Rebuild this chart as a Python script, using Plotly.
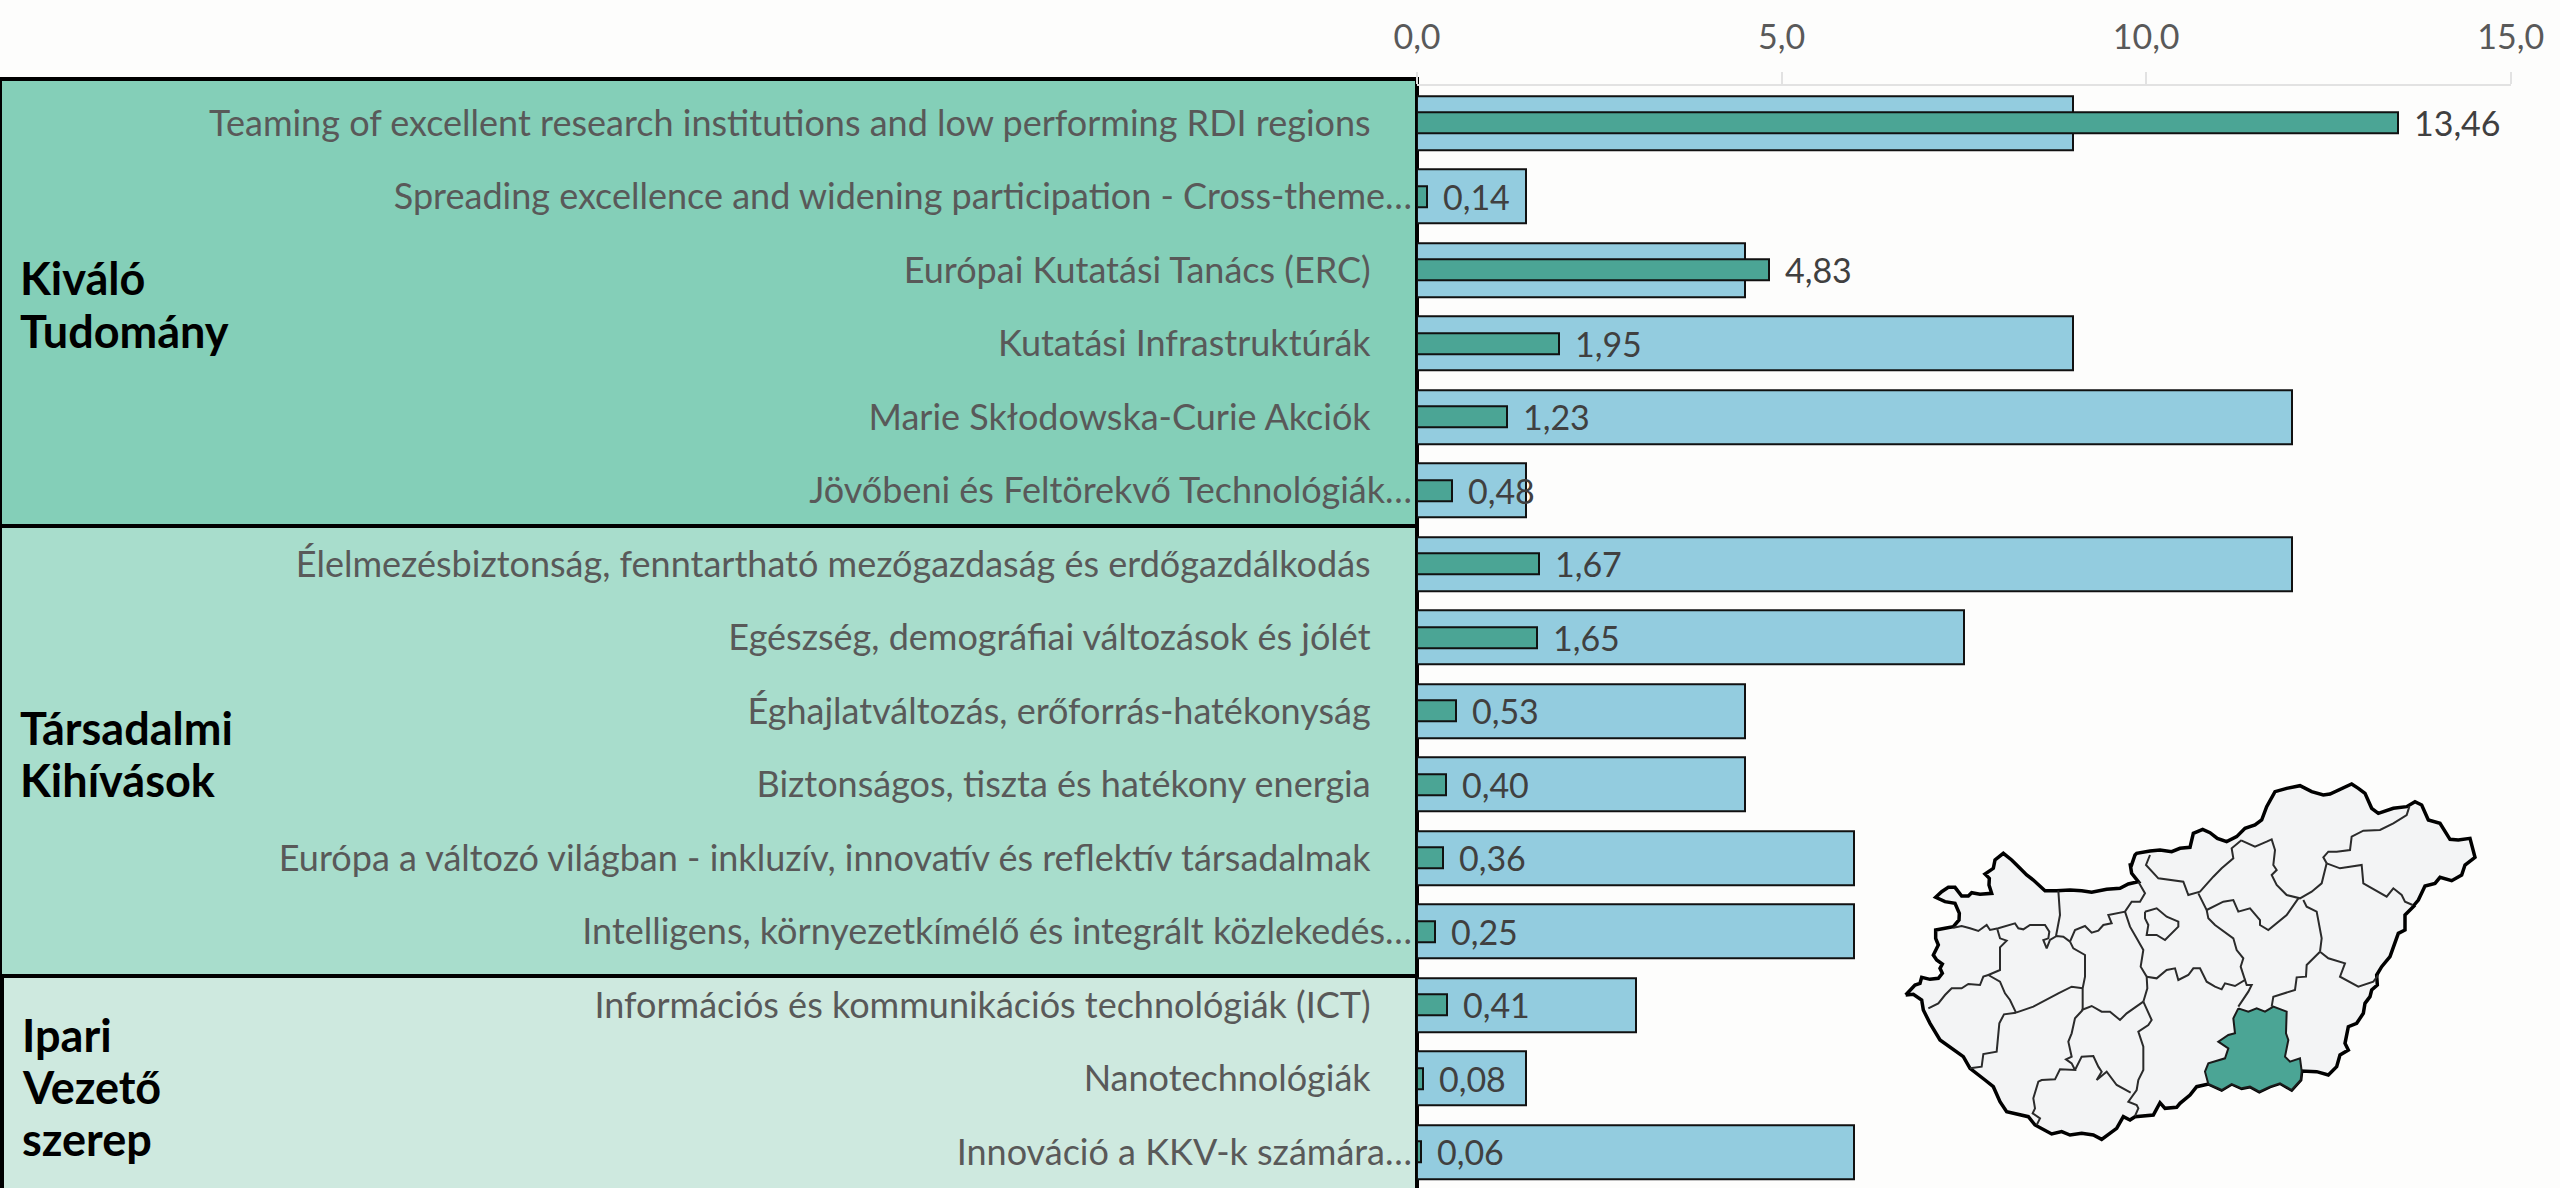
import plotly.graph_objects as go

W, H = 2560, 1188
FONT = "Lato"

categories = [
    "Teaming of excellent research institutions and low performing RDI regions",
    "Spreading excellence and widening participation - Cross-theme…",
    "Európai Kutatási Tanács (ERC)",
    "Kutatási Infrastruktúrák",
    "Marie Skłodowska-Curie Akciók",
    "Jövőbeni és Feltörekvő Technológiák…",
    "Élelmezésbiztonság, fenntartható mezőgazdaság és erdőgazdálkodás",
    "Egészség, demográfiai változások és jólét",
    "Éghajlatváltozás, erőforrás-hatékonyság",
    "Biztonságos, tiszta és hatékony energia",
    "Európa a változó világban - inkluzív, innovatív és reflektív társadalmak",
    "Intelligens, környezetkímélő és integrált közlekedés…",
    "Információs és kommunikációs technológiák (ICT)",
    "Nanotechnológiák",
    "Innováció a KKV-k számára…",
]
blue_values = [9, 1.5, 4.5, 9, 12, 1.5, 12, 7.5, 4.5, 4.5, 6, 6, 3, 1.5, 6]
green_values = [13.46, 0.14, 4.83, 1.95, 1.23, 0.48, 1.67, 1.65, 0.53, 0.40, 0.36, 0.25, 0.41, 0.08, 0.06]
x_ticks = [0, 5, 10, 15]

# Map outlines, traced in three views of the map
def w(pts): return [(1890 + x / 3, 860 + y / 3) for x, y in pts]   # south-west view
def e(pts): return [(2170 + x / 3, 860 + y / 3) for x, y in pts]   # south-east view
def n(pts): return [(2130 + x / 3, 770 + y / 3) for x, y in pts]   # north view

border_west_north = [(47,405),(60,392),(75,375),(90,370),(95,352),(120,358),(145,355),(157,340),(150,325),(157,312),(140,300),(130,285),(145,255),(137,235),(137,210),(165,205),(190,200),(207,180),(208,160),(195,130),(165,125),(137,112),(155,95),(175,82),(195,82),(215,108),(235,108),(245,98),(270,103),(305,100),(297,75),(298,55),(285,42),(310,25),(315,0),(340,-20),(365,0),(390,25),(410,45),(430,60),(445,75),(465,92),(500,92),(540,90),(575,92),(605,97),(650,88),(690,85),(715,72),(745,65),(725,40),(720,10)]
border_north = [(3,290),(15,255),(20,250),(60,243),(90,240),(125,245),(150,235),(180,232),(190,190),(218,178),(240,188),(262,205),(290,215),(320,200),(345,175),(375,165),(395,150),(410,110),(435,65),(470,55),(510,47),(545,65),(580,75),(600,72),(635,55),(665,42),(685,55),(705,70),(725,115),(745,130),(790,115),(830,110),(855,95),(875,105),(895,150),(930,160),(960,208),(985,210),(1020,205),(1028,235),(1035,262),(1005,285),(995,315),(965,332),(930,322),(915,340),(885,348),(865,390),(850,408)]
border_east = [(735,135),(705,165),(705,210),(685,220),(670,265),(660,290),(635,320),(620,345),(622,375),(605,390),(600,410),(585,430),(580,460),(560,490),(535,500),(525,550),(535,570),(510,585),(500,620),(475,645),(440,635),(395,633),(392,660),(365,690),(330,670),(300,680),(268,695),(240,680),(215,685),(185,672),(155,690),(115,672),(80,680),(60,705),(30,730)]
border_south = [(860,742),(825,745),(810,728),(790,765),(735,770),(720,780),(700,770),(680,805),(650,825),(635,838),(610,825),(575,820),(540,825),(515,815),(485,822),(465,810),(435,795),(415,770),(375,762),(350,755),(330,725),(310,680),(285,660),(240,625),(220,590),(185,565),(150,540),(120,490),(100,450),(95,420),(70,403),(47,405)]
outer_border = w(border_west_north) + n(border_north) + e(border_east) + w(border_south)

county_lines = [
    w([(190,203),(215,198),(240,205),(265,213),(290,195),(300,210),(325,205),(375,190),(385,205),(400,208),(420,195),(465,195),(478,215),(475,235),(460,240),(470,265),(480,240),(500,228),(520,230),(540,245)]),
    w([(505,92),(510,165),(498,228)]),
    w([(540,245),(555,210),(585,198),(605,218),(625,212),(640,195),(665,190),(655,165),(705,155),(725,125),(750,125),(765,100),(745,65)]),
    w([(705,155),(720,200),(740,235),(760,270),(752,320),(770,350),(772,385),(760,425)]),
    w([(575,450),(605,438),(635,455),(660,455),(690,480),(710,460),(760,425)]),
    w([(540,245),(550,265),(585,285),(585,350),(578,385),(578,450)]),
    w([(322,208),(330,235),(350,242),(330,262),(330,330),(295,345),(330,365),(345,400),(360,420),(378,458)]),
    w([(378,458),(430,440),(505,400),(545,380),(578,385)]),
    w([(115,445),(145,430),(165,405),(185,385),(215,385),(235,372),(270,375),(280,350),(295,345)]),
    w([(378,458),(342,463),(328,490),(325,525),(320,575),(280,582),(275,620),(240,625)]),
    w([(578,450),(555,475),(545,520),(535,545),(545,590),(528,598),(545,610),(555,630),(510,628),(495,658),(455,660),(445,665),(430,715),(435,745),(428,760),(450,775),(440,795)]),
    w([(555,630),(575,590),(610,588),(625,620),(635,635),(620,660),(650,635),(680,675),(722,698)]),
    w([(760,425),(785,480),(775,495),(745,515),(760,560),(760,630),(745,660),(740,690),(715,725),(740,735),(745,745),(735,768)]),
    w([(765,155),(800,145),(830,170),(865,185),(865,200),(825,240),(800,225),(770,225),(775,195),(765,175),(765,155)]),
    w([(770,350),(800,355),(830,330)]) + e([(15,325),(25,360),(55,345),(70,325),(90,325),(110,365),(135,380),(155,388),(165,370),(195,378),(225,360),(230,375),(245,375),(235,395),(215,425),(205,440)]),
    e([(85,100),(110,150),(115,175),(135,195),(190,235),(200,270),(220,295),(212,320),(225,360)]),
    e([(110,150),(130,140),(160,125),(190,120),(205,155),(240,145),(270,180),(270,195),(295,210),(350,165),(385,115)]),
    e([(400,120),(410,140),(440,155),(455,235),(450,275)]),
    e([(450,275),(475,295),(525,310),(510,350),(565,380),(610,365),(625,345)]),
    e([(450,275),(410,315),(408,350),(380,352),(375,390),(310,410),(305,440)]),
    n([(60,255),(48,285),(85,325),(160,335),(175,375),(210,365),(250,320),(275,295),(310,265),(305,235),(335,210)]),
    n([(335,212),(375,230),(410,215),(425,208),(435,240),(430,285),(440,300),(425,315),(440,345),(470,375),(510,385),(545,365),(575,340),(590,280)]),
    n([(590,280),(580,262),(595,245),(620,245),(660,240),(665,200),(700,182),(750,180),(790,160),(830,135),(838,110)]),
    n([(590,280),(630,295),(695,285),(700,340),(770,380),(790,355),(815,375),(825,395),(848,405)]),
]
csongrad = e([(205,445),(235,455),(260,445),(285,455),(310,440),(350,455),(348,520),(355,540),(345,590),(360,605),(390,595),(395,633),(392,660),(365,690),(330,670),(300,680),(268,695),(240,680),(215,685),(185,672),(155,690),(115,672),(105,635),(115,610),(165,595),(175,565),(145,545),(175,525),(195,520),(190,475),(205,445)])

groups = [("#84CFB8", 79, 526, 0), ("#A8DDCC", 526, 976, 0), ("#CEE9DF", 976, 1230, 2)]
group_labels = [("Kiváló", 18, 278), ("Tudomány", 18, 331), ("Társadalmi", 18, 728), ("Kihívások", 18, 780),
                ("Ipari", 20, 1035), ("Vezető", 20, 1087), ("szerep", 20, 1139)]

def px(x): return x / W
def py(y): return 1 - y / H

x0_px, x15_px = 1417, 2510.7
top_px = 86.25
band = 73.5
count = len(categories)
y_bottom_val = (H - top_px) / band - 0.5

def label(c):
    return c if c.endswith("…") else c + "\u00a0" * 4 + "\u2009"

fig = go.Figure()
fig.add_trace(go.Bar(y=list(range(count)), x=blue_values, orientation="h", width=0.735,
                     marker=dict(color="#93CCDF", line=dict(color="#111111", width=2)),
                     showlegend=False))
fig.add_trace(go.Bar(y=list(range(count)), x=green_values, orientation="h", width=0.286,
                     marker=dict(color="#4BA595", line=dict(color="#111111", width=2)),
                     text=["\u00a0\u2009" + f"{v:.2f}".replace(".", ",") for v in green_values],
                     textposition="outside", cliponaxis=False, constraintext="none",
                     textfont=dict(family=FONT, size=34, color="#404040"),
                     showlegend=False))

fig.add_trace(go.Scatter(x=[p[0] for p in outer_border], y=[p[1] for p in outer_border], mode="lines",
                         fill="toself", fillcolor="#F3F4F5",
                         line=dict(color="#000000", width=3.5), xaxis="x2", yaxis="y2", showlegend=False))
for line in county_lines:
    fig.add_trace(go.Scatter(x=[p[0] for p in line], y=[p[1] for p in line], mode="lines",
                             line=dict(color="#2B2B2B", width=2), xaxis="x2", yaxis="y2", showlegend=False))
fig.add_trace(go.Scatter(x=[p[0] for p in csongrad], y=[p[1] for p in csongrad], mode="lines",
                         fill="toself", fillcolor="#4BA595", line=dict(color="#1A1A1A", width=2),
                         xaxis="x2", yaxis="y2", showlegend=False))

shapes = []
for color, y0, y1, x_left in groups:
    shapes.append(dict(type="rect", xref="paper", yref="paper", x0=px(x_left), x1=px(x0_px),
                       y0=py(y1), y1=py(y0), fillcolor=color, layer="below",
                       line=dict(color="#000000", width=4)))
annotations = [dict(xref="paper", yref="paper", x=px(x), y=py(y), text=f"<b>{t}</b>", showarrow=False,
                    xanchor="left", yanchor="middle", font=dict(family=FONT, size=45, color="#000000"))
               for t, x, y in group_labels]

fig.update_layout(
    width=W, height=H, autosize=False,
    margin=dict(l=0, r=0, t=0, b=0, pad=0),
    paper_bgcolor="#FDFDFC", plot_bgcolor="#FDFDFC",
    barmode="overlay", bargap=0, separators=", ",
    font=dict(family=FONT),
    shapes=shapes, annotations=annotations,
    xaxis=dict(domain=[px(x0_px), px(x15_px)], range=[0, 15], side="top", tickvals=x_ticks,
               tickformat=".1f", ticks="outside", ticklen=12, tickwidth=2, tickcolor="#E2E2E2",
               showline=True, linecolor="#E2E2E2", linewidth=2, showgrid=False, zeroline=False,
               automargin=False, ticklabelstandoff=10,
               tickfont=dict(family=FONT, size=34, color="#595959"), anchor="y"),
    yaxis=dict(domain=[0, py(top_px)], range=[y_bottom_val, -0.5], tickmode="array",
               tickvals=list(range(count)), ticktext=[label(c) for c in categories],
               ticks="", showgrid=False, zeroline=False, showline=False, ticklabelstandoff=4,
               automargin=False,
               tickfont=dict(family=FONT, size=36, color="#595959"), anchor="x"),
    xaxis2=dict(domain=[px(1880), px(2500)], range=[1880, 2500], visible=False, anchor="y2", fixedrange=True, automargin=False),
    yaxis2=dict(domain=[py(1160), py(760)], range=[1160, 760], visible=False, anchor="x2", fixedrange=True, automargin=False),
)
fig.write_html("out.html", config={"displayModeBar": False},
               post_script="document.body.style.margin='0';document.documentElement.style.overflow='hidden';")
